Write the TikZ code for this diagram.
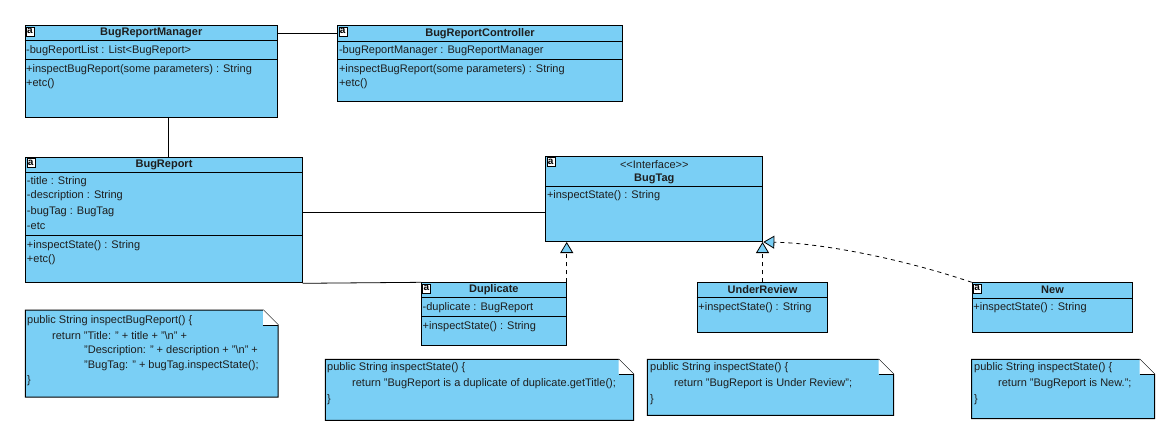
\documentclass[tikz,border=0pt]{standalone}
\usepackage{fontspec}
\setmainfont{Liberation Sans}
\usetikzlibrary{arrows.meta,calc,positioning}
\definecolor{VPBlue}{HTML}{7ACFF5}
\definecolor{VPInk}{HTML}{1E1E1E}

\tikzset{
  classbox/.style={draw=black,fill=VPBlue,line width=1pt,inner sep=0pt,anchor=north west},
  notebox/.style={inner sep=0pt,anchor=north west},
  member/.style={anchor=west,inner sep=0pt,text=VPInk,font=\fontsize{11}{13}\selectfont},
  cname/.style={inner sep=0pt,text=VPInk,font=\fontsize{11}{13}\selectfont\bfseries},
  icon/.style={draw=black,fill=white,line width=0.4pt,inner sep=0pt,minimum width=8pt,minimum height=9pt,font=\fontsize{10}{10}\selectfont\bfseries},
  sep/.style={line width=1pt},
  assoc/.style={line width=0.8pt},
  realize/.style={line width=0.8pt,dash pattern=on 4pt off 4pt,
    -{Triangle[width=13pt,length=11pt,fill=VPBlue,line width=0.8pt]}}
}

\begin{document}
\begin{tikzpicture}[x=1pt,y=-1pt]
  \useasboundingbox (0,0) rectangle (1174,442);

  % class boxes
  \node[classbox,minimum width=252.5,minimum height=92] (mgr) at (24.5,25.3) {};
  \node[classbox,minimum width=284.4,minimum height=75.7] (ctl) at (337.3,25.3) {};
  \node[classbox,minimum width=276.4,minimum height=125.6] (rep) at (25.3,156.7) {};
  \node[classbox,minimum width=217,minimum height=85] (tag) at (545.3,156) {};
  \node[classbox,minimum width=144.7,minimum height=63] (dup) at (421,282.3) {};
  \node[classbox,minimum width=130.6,minimum height=49.7] (rev) at (696.7,282.3) {};
  \node[classbox,minimum width=160.6,minimum height=49.7] (new) at (971.7,282.3) {};

  % compartments
  \foreach \b/\y in {mgr/15.5,mgr/34,ctl/15.7,ctl/34,rep/15.6,rep/78.3,tag/30.3,dup/15,dup/33.7,rev/15,new/15.7}{
    \draw[sep] ($(\b.north west)+(0,\y)$) -- ($(\b.north east)+(0,\y)$);
  }

  % "a" icons
  \foreach \b in {mgr,ctl,rep,tag,dup,new}{
    \node[icon,below right=1.2pt and 1.2pt of \b.north west] (\b-ico) {a};
  }

  % names
  \node[cname] (mgr-name) at ($(mgr.north)+(0,8)$) {BugReportManager};
  \node[cname] (ctl-name) at ($(ctl.north)+(0,8)$) {BugReportController};
  \node[cname] (rep-name) at ($(rep.north)+(0,8)$) {BugReport};
  \node[member,anchor=center] (tag-st) at ($(tag.north)+(0,8.7)$) {<{}<Interface>{}>};
  \node[cname] (tag-name) at ($(tag.north)+(0,23.3)$) {BugTag};
  \node[cname] (dup-name) at ($(dup.north)+(0,7.7)$) {Duplicate};
  \node[cname] (rev-name) at ($(rev.north)+(0,7.7)$) {UnderReview};
  \node[cname] (new-name) at ($(new.north)+(0,7.7)$) {New};

  % members
  \foreach \y/\t [count=\i] in {25/-bugReportList : List<BugReport>,
      44/+inspectBugReport(some parameters) : String,58.7/+etc()}{
    \node[member] (mgr-m\i) at ($(mgr.north west)+(1.5,\y)$) {\t};
  }
  \foreach \y/\t [count=\i] in {25/-bugReportManager : BugReportManager,
      44/+inspectBugReport(some parameters) : String,58.7/+etc()}{
    \node[member] (ctl-m\i) at ($(ctl.north west)+(1.5,\y)$) {\t};
  }
  \foreach \y/\t [count=\i] in {25/-title : String,39.3/-description : String,
      54.6/-bugTag : BugTag,69.6/-etc,89/+inspectState() : String,103.3/+etc()}{
    \node[member] (rep-m\i) at ($(rep.north west)+(1.5,\y)$) {\t};
  }
  \node[member] (tag-m1) at ($(tag.north west)+(1.5,39.7)$) {+inspectState() : String};
  \node[member] (dup-m1) at ($(dup.north west)+(1.5,25.4)$) {-duplicate : BugReport};
  \node[member] (dup-m2) at ($(dup.north west)+(1.5,44.4)$) {+inspectState() : String};
  \node[member] (rev-m1) at ($(rev.north west)+(1.5,25.4)$) {+inspectState() : String};
  \node[member] (new-m1) at ($(new.north west)+(1.5,25)$) {+inspectState() : String};

  % notes
  \node[notebox,minimum width=252.4,minimum height=86.7] (n1) at (25.3,310) {};
  \node[notebox,minimum width=308,minimum height=60.7] (n2) at (325.3,359.3) {};
  \node[notebox,minimum width=246,minimum height=55.7] (n3) at (647.3,359.3) {};
  \node[notebox,minimum width=182.6,minimum height=59] (n4) at (971.7,359.3) {};
  \foreach \n in {n1,n2,n3,n4}{
    \filldraw[fill=VPBlue,line width=1pt] (\n.north west) -- ($(\n.north east)+(-15,0)$)
      -- ($(\n.north east)+(0,15)$) -- (\n.south east) -- (\n.south west) -- cycle;
    \fill[white] ($(\n.north east)+(-15,0)$) -- ($(\n.north east)+(-15,15)$) -- ($(\n.north east)+(0,15)$) -- cycle;
    \draw[line width=0.8pt] ($(\n.north east)+(-15,15)$) -- ($(\n.north east)+(0,15)$);
  }
  \node[member] (n1-l1) at ($(n1.north west)+(1.7,11)$) {public String inspectBugReport() \{};
  \node[member] (n1-l2) at ($(n1.north west)+(26.7,26)$) {return "Title: " + title + "\textbackslash n" +};
  \node[member] (n1-l3) at ($(n1.north west)+(58.7,40.5)$) {"Description: " + description + "\textbackslash n" +};
  \node[member] (n1-l4) at ($(n1.north west)+(58.7,56)$) {"BugTag: " + bugTag.inspectState();};
  \node[member] (n1-l5) at ($(n1.north west)+(1.7,71)$) {\}};

  \node[member] (n2-l1) at ($(n2.north west)+(1.7,8.7)$) {public String inspectState() \{};
  \node[member] (n2-l2) at ($(n2.north west)+(26.7,24.7)$) {return "BugReport is a duplicate of duplicate.getTitle();};
  \node[member] (n2-l3) at ($(n2.north west)+(1.7,40.7)$) {\}};

  \node[member] (n3-l1) at ($(n3.north west)+(2.7,8.7)$) {public String inspectState() \{};
  \node[member] (n3-l2) at ($(n3.north west)+(26.7,24.7)$) {return "BugReport is Under Review";};
  \node[member] (n3-l3) at ($(n3.north west)+(2.7,40.7)$) {\}};

  \node[member] (n4-l1) at ($(n4.north west)+(2.3,8.7)$) {public String inspectState() \{};
  \node[member] (n4-l2) at ($(n4.north west)+(26.3,24.7)$) {return "BugReport is New.";};
  \node[member] (n4-l3) at ($(n4.north west)+(2.3,40.7)$) {\}};

  % connectors
  \draw[assoc] ($(mgr.north east)+(0,8)$) -- ($(ctl.north west)+(0,8)$);
  \draw[assoc] ($(mgr.south west)+(143.8,0)$) coordinate (m1) -- (m1 |- rep.north);
  \draw[assoc] ($(rep.north east)+(0,55.6)$) coordinate (r1) -- (r1 -| tag.west);
  \draw[assoc] (rep.south east) -- (dup.north west);
  \draw[realize] (dup.north east) -- (dup.north east |- tag.south);
  \draw[realize] (rev.north) -- (rev.north |- tag.south);
  \draw[realize] (new.north west) .. controls (900,258) and (820,243) .. (tag.south east);
\end{tikzpicture}
\end{document}
